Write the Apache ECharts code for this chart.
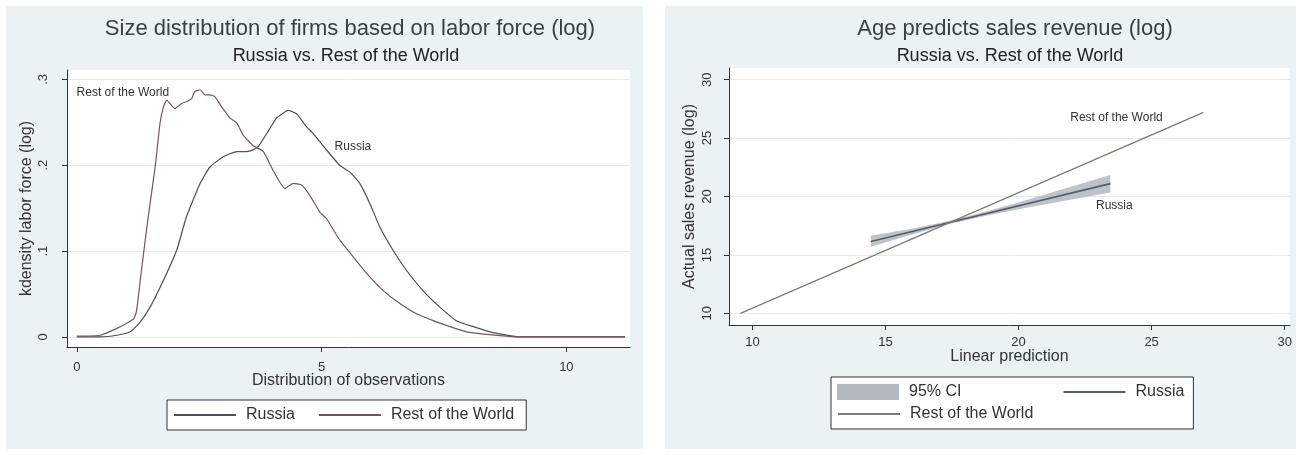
<!DOCTYPE html>
<html>
<head>
<meta charset="utf-8">
<script src="https://cdn.jsdelivr.net/npm/echarts@6/dist/echarts.min.js"></script>
<style>
  html, body { margin: 0; padding: 0; background: #fff; }
  #wrap { position: relative; width: 1302px; height: 455px; overflow: hidden; }
  .panel { position: absolute; top: 6px; height: 443px; background: #eaf2f3; }
  .chart { position: absolute; top: 0; width: 651px; height: 455px; }
</style>
</head>
<body>
<div id="wrap">
  <div class="panel" style="left:6px;width:637px"></div>
  <div class="panel" style="left:665px;width:631px"></div>
  <div id="left" class="chart" style="left:0"></div>
  <div id="right" class="chart" style="left:651px"></div>
</div>
<script>
// ---- left chart: kernel densities ----
const rowX = [0, 0.48, 0.82, 1.02, 1.16, 1.22, 1.33, 1.46, 1.60, 1.70, 1.77, 1.84, 1.90, 2.00, 2.14, 2.24,
  2.35, 2.41, 2.52, 2.62, 2.72, 2.82, 2.96, 3.13, 3.27, 3.40, 3.60, 3.81, 4.01, 4.25, 4.42, 4.59, 4.76,
  4.97, 5.10, 5.37, 5.65, 5.92, 6.26, 6.60, 6.94, 7.28, 7.62, 7.96, 8.37, 8.78, 9.05, 11.2]
const rowY = [0.001, 0.002, 0.010, 0.016, 0.021, 0.030, 0.082, 0.140, 0.198, 0.249, 0.268, 0.276, 0.272,
  0.266, 0.272, 0.274, 0.278, 0.286, 0.288, 0.282, 0.282, 0.280, 0.268, 0.255, 0.249, 0.235, 0.223, 0.216,
  0.194, 0.173, 0.179, 0.177, 0.165, 0.145, 0.138, 0.113, 0.093, 0.074, 0.054, 0.039, 0.027, 0.019, 0.012,
  0.006, 0.003, 0.001, 0.000, 0.000]
const rusX = [0, 0.48, 0.82, 1.09, 1.29, 1.50, 1.77, 2.04, 2.24, 2.52, 2.72, 2.99, 3.27, 3.47, 3.60, 3.71,
  3.88, 4.08, 4.32, 4.49, 4.69, 4.83, 5.10, 5.37, 5.58, 5.78, 5.99, 6.19, 6.46, 6.73, 7.07, 7.41, 7.75,
  8.10, 8.50, 8.90, 9.05, 11.2]
const rusY = [0.000, 0.000, 0.002, 0.006, 0.017, 0.035, 0.066, 0.101, 0.140, 0.179, 0.198, 0.210, 0.216,
  0.216, 0.218, 0.222, 0.237, 0.255, 0.264, 0.260, 0.245, 0.237, 0.218, 0.200, 0.192, 0.179, 0.155, 0.128,
  0.101, 0.078, 0.054, 0.035, 0.019, 0.012, 0.005, 0.001, 0.000, 0.000]
const xTicksL = [0, 5, 10]
const yTicksL = [0, 0.1, 0.2, 0.3]
const yTickLabelsL = ['0', '.1', '.2', '.3']

// ---- right chart: fitted lines ----
const fitRowX = [9.55, 26.95]
const fitRowY = [10.0, 27.2]
const fitRusX = [14.45, 23.45]
const fitRusY = [16.15, 21.1]
const ciX = [14.45, 16, 17.5, 19, 20.5, 22, 23.45]
const ciLow = [15.7, 16.75, 17.7, 18.45, 19.13, 19.75, 20.35]
const ciHigh = [16.65, 17.25, 17.96, 18.85, 19.83, 20.85, 21.85]
const xTicksR = [10, 15, 20, 25, 30]
const yTicksR = [10, 15, 20, 25, 30]

const FONT = '"Liberation Sans", Arial, sans-serif'
const INK = '#333'
const GRIDLINE = '#e4eef0'

const pairs = (xs, ys) => xs.map((x, i) => [x, ys[i]])

const axisBase = (ticks, extra) => Object.assign({
  type: 'value',
  nameLocation: 'middle',
  nameMoveOverlap: false,
  nameTextStyle: { fontSize: 16, color: INK, fontFamily: FONT },
  axisLine: { onZero: false, lineStyle: { color: INK, width: 1 } },
  axisTick: { customValues: ticks, length: 5, lineStyle: { color: INK } },
  axisLabel: { customValues: ticks, fontSize: 13, color: INK, fontFamily: FONT },
  splitLine: { show: true, lineStyle: { color: GRIDLINE, width: 1 } }
}, extra)

const pointLabel = (coord, text) => ({
  symbol: 'circle', symbolSize: 1, silent: true,
  itemStyle: { color: 'rgba(0,0,0,0)' },
  label: { show: true, position: 'inside', fontSize: 12, color: INK, fontFamily: FONT, formatter: () => text },
  data: [{ coord: coord }]
})

// legend line icons only: hide the default symbol drawn on top of the line
const legendText = { fontSize: 16, color: INK, fontFamily: FONT, padding: [0, 0, 0, 5] }

// left
const leftChart = echarts.init(document.getElementById('left'), null, { renderer: 'canvas' })
leftChart.setOption({
  animation: false,
  textStyle: { fontFamily: FONT },
  title: [
    { text: 'Size distribution of firms based on labor force (log)', left: 350, top: 18, textAlign: 'center', padding: 0,
      textStyle: { fontSize: 22, fontWeight: 'normal', color: '#3a4048', fontFamily: FONT } },
    { text: 'Russia vs. Rest of the World', left: 346, top: 47, textAlign: 'center', padding: 0,
      textStyle: { fontSize: 18, fontWeight: 'normal', color: '#222', fontFamily: FONT } }
  ],
  grid: { left: 67, right: 21, top: 70, bottom: 108, show: true, backgroundColor: '#fff', borderWidth: 0 },
  xAxis: axisBase(xTicksL, {
    min: -0.2, max: 11.3,
    name: 'Distribution of observations', nameGap: 26,
    splitLine: { show: false },
    axisLabel: { customValues: xTicksL, fontSize: 13, color: INK, fontFamily: FONT, margin: 14 }
  }),
  yAxis: axisBase(yTicksL, {
    min: -0.0117, max: 0.311,
    name: 'kdensity labor force (log)', nameGap: 32,
    axisLabel: {
      customValues: yTicksL, fontSize: 13, color: INK, fontFamily: FONT, rotate: 90, margin: 17,
      formatter: v => yTickLabelsL[yTicksL.indexOf(Math.round(v * 10) / 10)]
    }
  }),
  legend: {
    data: ['Russia', 'Rest of the World'],
    left: 167, top: 400,
    itemWidth: 62, itemHeight: 14, itemGap: 23,
    padding: [7, 12, 7, 6],
    borderColor: INK, borderWidth: 1, backgroundColor: '#fff',
    selectedMode: false,
    itemStyle: { opacity: 0 },
    textStyle: legendText
  },
  series: [
    {
      name: 'Russia', type: 'line', symbol: 'none', smooth: 0.15,
      data: pairs(rusX, rusY),
      lineStyle: { color: '#4a4f58', width: 1.2 }, itemStyle: { color: '#4a4f58' },
      markPoint: pointLabel([5.64, 0.222], 'Russia')
    },
    {
      name: 'Rest of the World', type: 'line', symbol: 'none', smooth: 0.15,
      data: pairs(rowX, rowY),
      lineStyle: { color: '#7a5458', width: 1.2 }, itemStyle: { color: '#a06868' },
      markPoint: pointLabel([0.94, 0.284], 'Rest of the World')
    }
  ]
})

// right
const CI_COLOR = '#b3b9bf'
const RUS_R = '#52606e'
const ROW_R = '#76806a'
const rightChart = echarts.init(document.getElementById('right'), null, { renderer: 'canvas' })
rightChart.setOption({
  animation: false,
  textStyle: { fontFamily: FONT },
  title: [
    { text: 'Age predicts sales revenue (log)', left: 364, top: 18, textAlign: 'center', padding: 0,
      textStyle: { fontSize: 22, fontWeight: 'normal', color: '#3a4048', fontFamily: FONT } },
    { text: 'Russia vs. Rest of the World', left: 359, top: 47, textAlign: 'center', padding: 0,
      textStyle: { fontSize: 18, fontWeight: 'normal', color: '#222', fontFamily: FONT } }
  ],
  grid: { left: 78, right: 12, top: 68, bottom: 130, show: true, backgroundColor: '#fff', borderWidth: 0 },
  xAxis: axisBase(xTicksR, {
    min: 9.12, max: 30.2,
    name: 'Linear prediction', nameGap: 24,
    splitLine: { show: false },
    axisLabel: { customValues: xTicksR, fontSize: 13, color: INK, fontFamily: FONT, margin: 11 }
  }),
  yAxis: axisBase(yTicksR, {
    min: 9, max: 31,
    name: 'Actual sales revenue (log)', nameGap: 31,
    axisLabel: { customValues: yTicksR, fontSize: 13, color: INK, fontFamily: FONT, rotate: 90, margin: 15 }
  }),
  legend: [
    {
      data: [{ name: '95% CI', icon: 'rect', itemStyle: { color: CI_COLOR, opacity: 1 } }, 'Russia'],
      left: 180, top: 377,
      itemWidth: 62, itemHeight: 16, itemGap: 101,
      padding: [7, 9, 29, 6],
      borderColor: INK, borderWidth: 1, backgroundColor: '#fff',
      selectedMode: false,
      itemStyle: { opacity: 0 },
      textStyle: legendText
    },
    {
      data: ['Rest of the World'],
      left: 186, top: 406, z: 6,
      itemWidth: 62, itemHeight: 16,
      padding: 0,
      selectedMode: false,
      itemStyle: { opacity: 0 },
      textStyle: legendText
    }
  ],
  series: [
    {
      name: '95% CI', type: 'custom', coordinateSystem: 'cartesian2d',
      data: ciX.map((x, i) => [x, ciLow[i], ciHigh[i]]),
      encode: { x: 0, y: [1, 2] },
      itemStyle: { color: CI_COLOR },
      renderItem: (params, api) => {
        if (params.dataIndex !== 0) return null
        const pts = []
        ciX.forEach((x, i) => pts.push(api.coord([x, ciHigh[i]])))
        for (let i = ciX.length - 1; i >= 0; i--) pts.push(api.coord([ciX[i], ciLow[i]]))
        return { type: 'polygon', shape: { points: pts }, style: { fill: CI_COLOR, opacity: 0.85 } }
      }
    },
    {
      name: 'Russia', type: 'line', symbol: 'none',
      data: pairs(fitRusX, fitRusY),
      lineStyle: { color: RUS_R, width: 1.6 }, itemStyle: { color: RUS_R },
      markPoint: pointLabel([23.6, 19.2], 'Russia')
    },
    {
      name: 'Rest of the World', type: 'line', symbol: 'none',
      data: pairs(fitRowX, fitRowY),
      lineStyle: { color: ROW_R, width: 1.3 }, itemStyle: { color: ROW_R },
      markPoint: pointLabel([23.68, 26.72], 'Rest of the World')
    }
  ]
})
</script>
</body>
</html>
